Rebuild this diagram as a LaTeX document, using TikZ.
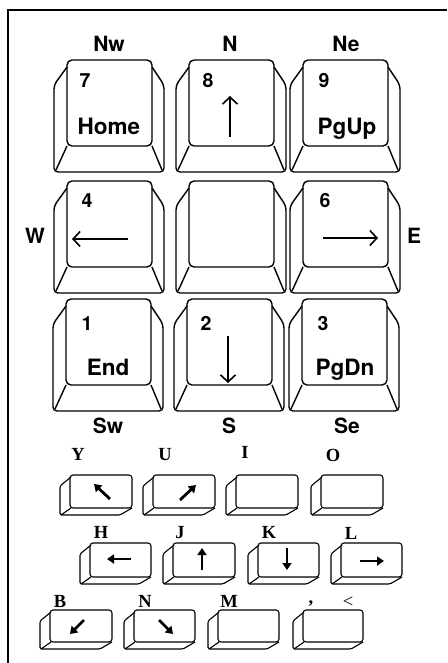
\documentclass[tikz,border=0pt]{standalone}
\usepackage{fontspec}
\newfontfamily\kheros{TeX Gyre Heros}
\newfontfamily\kserif{Liberation Serif}
\usetikzlibrary{arrows.meta}
\newcommand\bigkey[2]{%
  \begin{scope}[shift={(#1,#2)}]
    \draw[keyline,rounded corners=5] (13,0) rectangle (98,86);
    \draw[keyline,rounded corners=4] (13,7) -- (0,25) -- (0,112) -- (110,112) -- (110,25) -- (98,7);
    \draw[keyline] (13,86) -- (2,110) (98,86) -- (108,110);
  \end{scope}}
\newcommand\smallkey[4]{% x0 y0 w h
  \begin{scope}[shift={(#1,#2)}]
    \draw[skline,rounded corners=3] (0,0) rectangle (#3,#4);
    \draw[skline,rounded corners=1.5] (1,2) -- (-10,11) -- (-10,#4+7) -- (#3-12,#4+7) -- (#3,#4);
    \draw[skline] (1,#4) -- (-9,#4+7);
  \end{scope}}
\begin{document}
\begin{tikzpicture}[x=1pt,y=-1pt,
  keyline/.style={line width=1.4pt,line join=round},
  skline/.style={line width=1.1pt,line join=round},
  lab/.style={font=\kheros\bfseries\fontsize{21}{21}\selectfont,anchor=base,inner sep=0pt},
  klab/.style={font=\kheros\bfseries\fontsize{22.5}{22.5}\selectfont,anchor=base,inner sep=0pt},
  num/.style={font=\kheros\bfseries\fontsize{19.5}{19.5}\selectfont,anchor=base,inner sep=0pt},
  slab/.style={font=\kserif\bfseries\fontsize{18.5}{18.5}\selectfont,anchor=base,inner sep=0pt},
  bigarrow/.style={line width=1.6pt,-{Straight Barb[length=7pt,width=15pt,line width=1.6pt]}},
  smallarrow/.style={line width=2.8pt,-{Triangle[length=7pt,width=9pt]}}]
\useasboundingbox (0,0) rectangle (447,663);
% frame
\draw[line width=2.2pt] (8,663) -- (8,10);
\draw[line width=1.4pt] (7,10) -- (447,10);
% big keys
\bigkey{54}{60}\bigkey{176}{60}\bigkey{290}{60}
\bigkey{54}{181}\bigkey{176}{181}\bigkey{290}{181}
\bigkey{53}{299}\bigkey{174}{299}\bigkey{289}{299}
% direction labels
\node[lab] (nw) at (109,52) {Nw};
\node[lab] (n) at (230,52) {N};
\node[lab] (ne) at (346,52) {Ne};
\node[lab] (w) at (35,243) {W};
\node[lab] (e) at (414,243) {E};
\node[lab] (sw) at (108,433) {Sw};
\node[lab] (s) at (229,433) {S};
\node[lab] (se) at (347,433) {Se};
% key legends
\node[num] (k7) at (85,88) {7};
\node[klab] (home) at (109,135) {Home};
\node[num] (k8) at (208,88) {8};
\coordinate (u1) at (230,137); \coordinate (u2) at (230,96);
\draw[bigarrow] (u1) -- (u2);
\node[num] (k9) at (324,88) {9};
\node[klab] (pgup) at (347,135) {PgUp};
\node[num] (k4) at (87,207) {4};
\coordinate (l1) at (128,239); \coordinate (l2) at (72,239);
\draw[bigarrow] (l1) -- (l2);
\node[num] (k6) at (325,207) {6};
\coordinate (r1) at (323,238); \coordinate (r2) at (378,238);
\draw[bigarrow] (r1) -- (r2);
\node[num] (k1) at (87,330) {1};
\node[klab] (end) at (108,375) {End};
\node[num] (k2) at (206,330) {2};
\coordinate (d1) at (228,336); \coordinate (d2) at (228,383);
\draw[bigarrow] (d1) -- (d2);
\node[num] (k3) at (323,330) {3};
\node[klab] (pgdn) at (345,375) {PgDn};
% small keys
\smallkey{70}{475}{62}{33}\smallkey{153}{475}{62}{33}\smallkey{236}{475}{62}{33}\smallkey{321}{475}{62}{33}
\smallkey{90}{543}{61}{34}\smallkey{173}{543}{62}{34}\smallkey{258}{543}{61}{34}\smallkey{341}{543}{61}{34}
\smallkey{50}{610}{62}{32}\smallkey{134}{610}{61}{32}\smallkey{218}{610}{61}{32}\smallkey{303}{610}{60}{32}
\node[slab] (y) at (78,460) {Y};
\node[slab] (u) at (165,460) {U};
\node[slab] (i) at (245,458) {I};
\node[slab] (o) at (333,461) {O};
\node[slab] (h) at (101,538) {H};
\node[slab] (j) at (180,538) {J};
\node[slab] (k) at (269,538) {K};
\node[slab] (l) at (351,539) {L};
\node[slab] (b) at (60,607) {B};
\node[slab] (nn) at (145,607) {N};
\node[slab] (m) at (229,607) {M};
\node[slab] (comma) at (311,603) {,};
\node[font=\kserif\fontsize{18.5}{18.5}\selectfont,anchor=base,inner sep=0pt] (lt) at (348,607) {<};
% small key arrows
\coordinate (ya) at (110,499); \coordinate (yb) at (94,484);
\draw[smallarrow] (ya) -- (yb);
\coordinate (ua) at (180,500); \coordinate (ub) at (196,485);
\draw[smallarrow] (ua) -- (ub);
\coordinate (ha) at (131,559); \coordinate (hb) at (107,559);
\draw[smallarrow] (ha) -- (hb);
\coordinate (ja) at (202,570); \coordinate (jb) at (202,548);
\draw[smallarrow] (ja) -- (jb);
\coordinate (ka) at (287,548); \coordinate (kb) at (287,570);
\draw[smallarrow] (ka) -- (kb);
\coordinate (la) at (360,561); \coordinate (lb) at (384,561);
\draw[smallarrow] (la) -- (lb);
\coordinate (ba) at (84,620); \coordinate (bb) at (70,634);
\draw[smallarrow] (ba) -- (bb);
\coordinate (na) at (159,620); \coordinate (nb) at (173,634);
\draw[smallarrow] (na) -- (nb);
\end{tikzpicture}
\end{document}
